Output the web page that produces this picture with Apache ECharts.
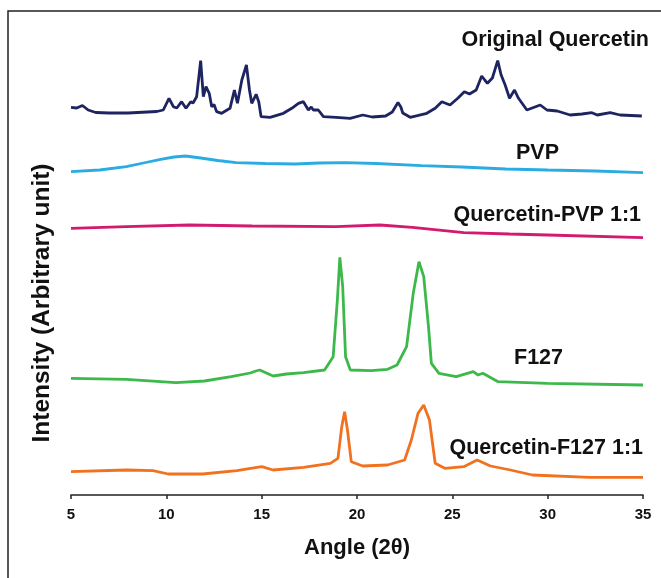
<!DOCTYPE html>
<html>
<head>
<meta charset="utf-8">
<script src="https://cdn.jsdelivr.net/npm/echarts@6/dist/echarts.min.js"></script>
<style>
  html, body { margin: 0; padding: 0; background: #fff; }
  #chart { width: 661px; height: 578px; }
</style>
</head>
<body>
<div id="chart"></div>
<script>
// 2θ angles and stacked intensities (arbitrary units, offsets included)
var quercetinAngle = [5.0, 5.3, 5.6, 5.9, 6.3, 7.0, 8.0, 9.0, 9.5, 9.84, 10.14, 10.37, 10.55, 10.8, 11.03, 11.28, 11.4, 11.59, 11.8, 11.94, 12.08, 12.25, 12.38, 12.5, 12.64, 12.9, 13.34, 13.57, 13.73, 13.96, 14.2, 14.36, 14.48, 14.71, 14.85, 14.97, 15.44, 16.14, 16.58, 16.93, 17.19, 17.45, 17.6, 17.71, 17.97, 18.24, 18.9, 19.64, 20.3, 20.8, 21.5, 21.85, 22.15, 22.3, 22.4, 22.79, 23.66, 24.1, 24.45, 24.88, 25.3, 25.63, 25.9, 26.25, 26.54, 26.7, 26.84, 27.1, 27.38, 27.56, 27.77, 28.0, 28.26, 28.47, 28.91, 29.61, 29.96, 30.5, 31.18, 31.8, 32.32, 32.6, 33.28, 33.8, 34.94];
var quercetinValue = [387.7, 387, 389.5, 385, 382.5, 382, 382, 383, 383.5, 385, 396.7, 388.3, 387, 393.3, 386.7, 393.3, 392, 398.3, 434.3, 398.3, 408.3, 401.7, 388.3, 390.5, 383.3, 381.7, 386.7, 405, 391.7, 415, 430, 405, 391.7, 400.7, 393, 378.3, 377.7, 381.7, 386.7, 391.7, 393.3, 385, 388, 385, 385, 378.3, 377.7, 376.7, 380, 378, 379, 383, 392.5, 388, 382, 377.7, 381.7, 386.7, 393.3, 390, 397, 403.3, 401, 405, 419, 415, 411.7, 417, 434.3, 420, 410, 396.7, 405, 396.7, 385, 390, 385, 384, 380, 381, 382.3, 380, 382.3, 380, 379];

var pvpAngle = [5, 6.5, 7.9, 8.8, 9.7, 10.4, 11.0, 11.8, 12.7, 13.66, 15.2, 16.76, 18.0, 19.4, 21.0, 23.39, 25.5, 27.8, 30.0, 32.5, 35];
var pvpValue = [323.3, 325, 328.3, 332, 335.7, 338, 339, 337, 334.5, 332.3, 331.5, 331, 332, 332.3, 331.5, 329.3, 328, 326, 325, 324, 322.3];

var qPvpAngle = [5, 7.9, 11.2, 14.5, 18.9, 21.2, 22.9, 25.6, 28, 30, 35];
var qPvpValue = [266.7, 268.3, 270, 269, 268.3, 270, 267.7, 262.3, 261, 260, 257.3];

var f127Angle = [5, 7.9, 10.5, 12, 13.4, 14.4, 14.7, 14.9, 15.6, 16.3, 17.2, 18.3, 18.75, 18.97, 19.1, 19.25, 19.4, 19.65, 20.75, 21.6, 22.1, 22.6, 22.95, 23.25, 23.5, 23.75, 23.9, 24.3, 25.2, 26.1, 26.35, 26.6, 27.4, 30, 35];
var f127Value = [116.7, 115.7, 112.3, 114, 118.3, 122, 124, 125, 119, 121, 122.3, 125, 138.3, 195, 237.7, 208.3, 138.3, 125, 124.3, 125.7, 130, 148.3, 201.7, 233.3, 218.3, 168.3, 131.7, 121.7, 118.3, 123.3, 120, 121.7, 113.3, 111.7, 110];

var qF127Angle = [5, 7.9, 9.3, 10.1, 11.9, 13.7, 15.0, 15.6, 17.2, 18.6, 19.0, 19.2, 19.35, 19.5, 19.7, 20.3, 21.6, 22.5, 22.85, 23.2, 23.5, 23.8, 24.1, 24.6, 25.6, 26.3, 27.0, 28.05, 29.2, 32.2, 35];
var qF127Value = [23.3, 25, 24.3, 21, 21, 24.3, 28.3, 25, 27.7, 31.7, 36.7, 68.3, 83.3, 65, 33.3, 29, 30, 35, 55, 81.7, 90, 75, 31.7, 26.7, 28.3, 35, 29, 25, 20, 17.7, 17.7];

var seriesNames = ['Original Quercetin', 'PVP', 'Quercetin-PVP 1:1', 'F127', 'Quercetin-F127 1:1'];
var seriesColors = ['#1d2460', '#2aace2', '#d21a6e', '#3db84a', '#f2711f'];
var angleTicks = [5, 10, 15, 20, 25, 30, 35];

function pairs(xs, ys) {
  return xs.map(function (x, i) { return [x, ys[i]]; });
}

var allData = [
  pairs(quercetinAngle, quercetinValue),
  pairs(pvpAngle, pvpValue),
  pairs(qPvpAngle, qPvpValue),
  pairs(f127Angle, f127Value),
  pairs(qF127Angle, qF127Value)
];

var font = "'Liberation Sans', Arial, sans-serif";
var myChart = echarts.init(document.getElementById('chart'));

// label positions (right edge, middle)
var labelPos = [[649, 40], [559, 153], [641, 215], [563, 358], [643, 448]];

var option = {
  animation: false,
  backgroundColor: '#fff',
  grid: { left: 71, right: 18, top: 20, bottom: 83 },
  xAxis: {
    type: 'value',
    min: angleTicks[0],
    max: angleTicks[angleTicks.length - 1],
    interval: 5,
    name: 'Angle (2θ)',
    nameLocation: 'middle',
    nameGap: 42,
    nameTextStyle: { fontFamily: font, fontWeight: 'bold', fontSize: 22, color: '#111' },
    axisLine: { lineStyle: { color: '#222', width: 1.5 } },
    axisTick: { show: true, length: 4, lineStyle: { color: '#222', width: 1.5 } },
    axisLabel: { fontFamily: font, fontWeight: 'bold', fontSize: 15, color: '#111', margin: 12 },
    splitLine: { show: false }
  },
  yAxis: {
    type: 'value',
    min: 0,
    max: 475,
    axisLine: { show: false },
    axisTick: { show: false },
    axisLabel: { show: false },
    splitLine: { show: false }
  },
  graphic: [
    {
      type: 'rect',
      x: 8, y: 11,
      shape: { x: 0, y: 0, width: 700, height: 620 },
      style: { fill: 'none', stroke: '#222', lineWidth: 1.5 },
      silent: true
    },
    {
      type: 'text',
      x: 42, y: 303,
      rotation: Math.PI / 2,
      style: {
        text: 'Intensity (Arbitrary unit)',
        fill: '#111',
        font: 'bold 24.5px ' + font,
        textAlign: 'center',
        textVerticalAlign: 'middle'
      }
    }
  ].concat(seriesNames.map(function (n, i) {
    return {
      type: 'text',
      x: labelPos[i][0], y: labelPos[i][1],
      style: {
        text: n,
        fill: '#111',
        font: 'bold 21.5px ' + font,
        textAlign: 'right',
        textVerticalAlign: 'middle'
      }
    };
  })),
  series: seriesNames.map(function (n, i) {
    return {
      name: n,
      type: 'line',
      data: allData[i],
      showSymbol: false,
      symbol: 'none',
      lineStyle: { color: seriesColors[i], width: 2.8 },
      z: 5 - i
    };
  })
};

myChart.setOption(option);
</script>
</body>
</html>
